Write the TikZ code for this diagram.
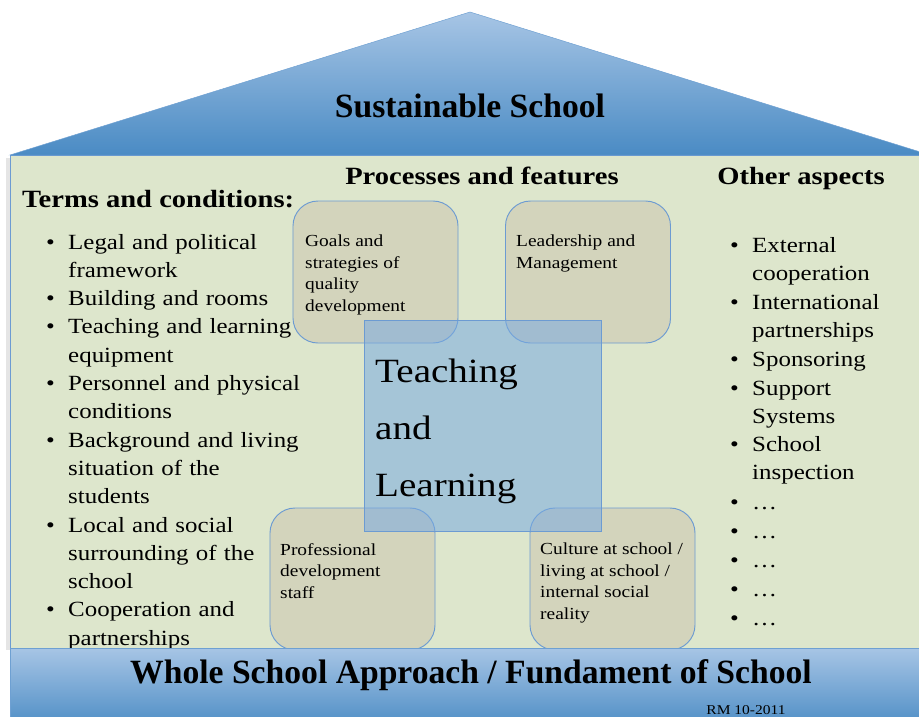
\documentclass[tikz,border=0pt]{standalone}
\usepackage{fontspec}
\setmainfont{Liberation Serif}[FakeStretch=1.15]
\newfontfamily\titlefont{Liberation Serif}[FakeStretch=0.99]
\usetikzlibrary{positioning}
\definecolor{rooftop}{RGB}{167,197,229}
\definecolor{roofbot}{RGB}{74,139,196}
\definecolor{roofline}{RGB}{110,160,210}
\definecolor{bodyfill}{RGB}{221,230,204}
\definecolor{boxfill}{RGB}{211,212,188}
\definecolor{boxline}{RGB}{108,155,210}
\definecolor{teachfill}{RGB}{120,170,225}
% bullet with hanging indent for the list entries
\newcommand{\listentry}[1]{\let\\\newline\noindent\hangindent=0.66cm\hangafter=1\makebox[0.66cm][l]{\textbullet}\strut#1\endgraf}

\begin{document}
\begin{tikzpicture}[x=0.03cm, y=-0.03cm,
    procbox/.style={draw=boxline, thick, fill=boxfill, rounded corners=0.75cm, minimum width=4.95cm, minimum height=4.26cm},
    boxtext/.style={anchor=north west, align=left, inner sep=0pt, font=\fontsize{14.4}{18.3}\selectfont},
    listtext/.style={anchor=north west, align=left, inner sep=0pt, font=\fontsize{18.5}{24.2}\selectfont},
    heading/.style={inner sep=0pt, font=\fontsize{21.2}{24}\selectfont\bfseries},
    bigtitle/.style={inner sep=0pt, font=\titlefont\bfseries\fontsize{29}{34}\selectfont}]
    \clip (0,0) rectangle (919,716);
    \fill[white] (0,0) rectangle (919,716);

    % House body and roof
    \fill[black!10] (6,158) rectangle (10,650);
    \node[draw=boxline, fill=bodyfill, minimum width=27.9cm, minimum height=14.79cm, anchor=north west, inner sep=0pt] (body) at (10,155) {};
    \shade[top color=rooftop, bottom color=roofbot, draw=roofline] (10,155) -- (470,12) -- (930,155) -- cycle;
    \node[bigtitle] (roof) at (470,106) {Sustainable School};

    % Column headings
    \node[heading, anchor=west] (terms) at (22,199) {Terms and conditions:};
    \node[heading] (processes) at (482,176) {Processes and features};
    \node[heading] (other) at (801,179) {Other aspects};

    % Processes boxes
    \node[procbox] (goals) at (375.5,272) {};
    \node[procbox] (leader) at (588,272) {};
    \node[procbox] (staff) at (352.5,579) {};
    \node[procbox] (culture) at (612.5,579) {};
    \node[draw=boxline, thick, fill=teachfill, fill opacity=0.55, minimum width=7.11cm, minimum height=6.33cm] (teach) at (482.5,425.5) {};
    \node[anchor=north west, align=left, inner sep=0pt, font=\fontsize{29}{48.5}\selectfont] (teachtext) at (375,359) {Teaching\\and\\Learning};

    \node[boxtext] (goalstext) at (305,235) {Goals and\\strategies of\\quality\\development};
    \node[boxtext] (leadertext) at (516,235) {Leadership and\\Management};
    \node[boxtext] (stafftext) at (280,543) {Professional\\development\\staff};
    \node[boxtext] (culturetext) at (540,543) {Culture at school /\\living at school /\\internal social\\reality};

    % Terms and conditions list
    \foreach \k/\txt [count=\i] in {0/{Legal and political\\framework}, 2/{Building and rooms},
        3/{Teaching and learning\\equipment}, 5/{Personnel and physical\\conditions},
        7/{Background and living\\situation of the\\students}, 10/{Local and social\\surrounding of the\\school},
        13/{Cooperation and\\partnerships}}
      \node[listtext, text width=8cm] (term\i) at (46,229+28.3*\k) {\listentry{\txt}};

    % Other aspects list
    \foreach \y/\txt [count=\i] in {232/{External\\cooperation}, 289/{International\\partnerships},
        346/{Sponsoring}, 375/{Support\\Systems}, 431/{School\\inspection},
        489/{\ldots}, 518/{\ldots}, 547/{\ldots}, 576/{\ldots}, 605/{\ldots}}
      \node[listtext, text width=5.5cm] (aspect\i) at (730,\y) {\listentry{\txt}};

    % Foundation
    \shade[top color=rooftop, bottom color=roofbot, draw=roofline] (10,648) rectangle (935,730);
    \node[bigtitle] (base) at (471,675) {Whole School Approach / Fundament of School};
    \node[inner sep=0pt, font=\fontsize{11.5}{13}\selectfont] (rm) at (746,710) {RM 10-2011};
\end{tikzpicture}
\end{document}
